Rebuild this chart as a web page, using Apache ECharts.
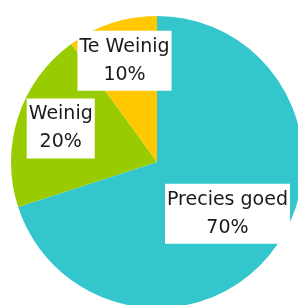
<!DOCTYPE html>
<html lang="nl">

<head>
    <meta charset="UTF-8">
    <title>Pie</title>
    <style>
        html,
        body {
            margin: 0;
            background: #fff;
        }

        #container {
            width: 298px;
            height: 305px;
        }
    </style>
</head>

<body>
    <div id="container"></div>
    <script src="https://cdn.jsdelivr.net/npm/echarts@6/dist/echarts.min.js"></script>
    <script>
        var categories = ['Precies goed', 'Weinig', 'Te Weinig'];
        var values = [70, 20, 10];
        var colors = ['#33c6cc', '#99cc00', '#ffc800'];

        // nudge labels away from the default 'inside' spot
        var labelShift = [[9, 7], [-24, -10], [-9, -29]];

        var chart = echarts.init(document.getElementById('container'));

        var option = {
            animation: false,
            series: [
                {
                    type: 'pie',
                    center: [157, 162],
                    radius: 146,
                    startAngle: 90,
                    clockwise: true,
                    data: categories.map(function (name, i) {
                        return { name: name, value: values[i], itemStyle: { color: colors[i] } };
                    }),
                    itemStyle: { borderWidth: 0 },
                    label: {
                        show: true,
                        position: 'inside',
                        formatter: function (p) {
                            return p.name + '\n' + p.value + '%';
                        },
                        fontFamily: 'DejaVu Sans',
                        fontSize: 19,
                        lineHeight: 28,
                        color: '#1a1a1a',
                        backgroundColor: '#fff',
                        padding: [2, 2, 2, 2],
                        align: 'center'
                    },
                    labelLine: { show: false },
                    labelLayout: function (params) {
                        var s = labelShift[params.dataIndex];
                        return { dx: s[0], dy: s[1] };
                    },
                    emphasis: { disabled: true }
                }
            ]
        };

        chart.setOption(option);
    </script>
</body>

</html>
